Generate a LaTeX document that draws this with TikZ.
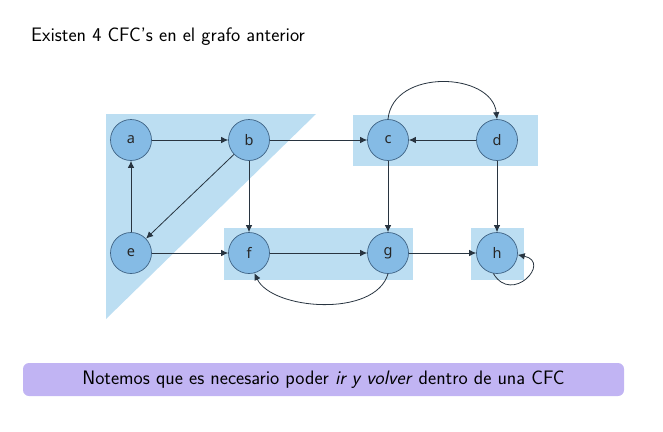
\documentclass[tikz,border=0pt]{standalone}
\usepackage{fontspec}
\newfontfamily\nodefont{Noto Sans}
\usetikzlibrary{arrows.meta}
\definecolor{nodefill}{RGB}{133,187,229}
\definecolor{nodeborder}{RGB}{62,98,132}
\definecolor{regionfill}{RGB}{188,222,242}
\definecolor{edgecol}{RGB}{40,52,64}
\definecolor{boxfill}{RGB}{193,180,243}
\tikzset{
  vertex/.style={circle, draw=nodeborder, fill=nodefill, line width=0.7pt, minimum size=41pt, inner sep=0pt, font=\nodefont\fontsize{14.5}{17}\selectfont, text=black!85},
  region/.style={fill=regionfill, draw=none},
  edge/.style={draw=edgecol, line width=0.8pt, -{Latex[length=7pt,width=6.5pt]}},
}
\begin{document}
\begin{tikzpicture}[x=1pt,y=-1pt]
\useasboundingbox (0,0) rectangle (663,431);
% regions
\fill[region] (106,114) -- (316,114) -- (106,319) -- cycle;
\fill[region] (224,228) rectangle (413,280);
\fill[region] (353,115) rectangle (538,166);
\fill[region] (471,228) rectangle (524,280);
% title
\node[anchor=base west, inner sep=0pt, font=\sffamily\fontsize{19.5}{23}\selectfont] (title) at (31,41) {Existen 4 CFC's en el grafo anterior};
% nodes
\node[vertex] (a) at (131,140) {a};
\node[vertex] (b) at (249,140) {b};
\node[vertex] (c) at (388,140) {c};
\node[vertex] (d) at (497,140) {d};
\node[vertex] (e) at (131,253) {e};
\node[vertex] (f) at (249,253) {f};
\node[vertex] (g) at (388,253) {g};
\node[vertex] (h) at (497,253) {h};
% edges
\draw[edge] (a) -- (b);
\draw[edge] (b) -- (c);
\draw[edge] (d) -- (c);
\draw[edge] (b) -- (e);
\draw[edge] (b) -- (f);
\draw[edge] (e) -- (a);
\draw[edge] (e) -- (f);
\draw[edge] (f) -- (g);
\draw[edge] (g) -- (h);
\draw[edge] (c) -- (g);
\draw[edge] (d) -- (h);
\draw[edge] (c.north) .. controls (393,68) and (492,72) .. (d.north);
\draw[edge] (g.south) .. controls (375,318) and (272,310) .. (f.-75);
\draw[edge] (h.-100) .. controls (512,305) and (552,262) .. (h.-5);
% bottom box
\node[fill=boxfill, rounded corners=6pt, minimum width=601pt, minimum height=33pt, inner sep=0pt, font=\sffamily\fontsize{19.5}{23}\selectfont] (note) at (323.5,379.5) {Notemos que es necesario poder \textit{ir y volver} dentro de una CFC};
\end{tikzpicture}
\end{document}
